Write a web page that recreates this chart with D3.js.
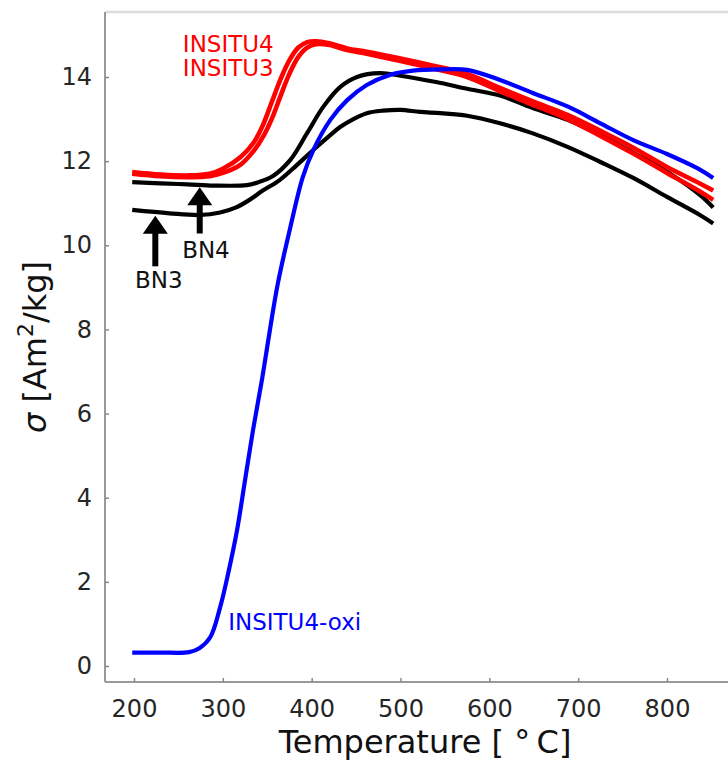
<!DOCTYPE html>
<html>
<head>
<meta charset="utf-8">
<script src="https://cdn.jsdelivr.net/npm/d3@7"></script>
<style>
	body { margin: 0; background: #fff; }
	#chart-area text { font-family: "DejaVu Sans", sans-serif; }
</style>
</head>
<body>
<div id="chart-area"></div>
<script>

// temperatures [deg C] and magnetisation [Am2/kg]
let insitu4Temp  = [198, 230, 260, 285, 300, 320, 335, 345, 355, 365, 375, 385, 395, 405, 420, 440, 462, 500, 537, 575, 612, 649, 688, 725, 762, 800, 837, 852];
let insitu4Sigma = [11.74, 11.68, 11.66, 11.7, 11.82, 12.1, 12.45, 12.85, 13.4, 13.95, 14.4, 14.7, 14.83, 14.85, 14.8, 14.68, 14.6, 14.44, 14.27, 14.07, 13.74, 13.42, 13.1, 12.72, 12.32, 11.86, 11.47, 11.3];

let insitu3Temp  = [198, 230, 260, 285, 300, 320, 335, 345, 355, 365, 375, 385, 395, 405, 420, 440, 462, 500, 537, 575, 612, 649, 688, 725, 762, 800, 837, 852];
let insitu3Sigma = [11.7, 11.64, 11.62, 11.64, 11.72, 11.92, 12.25, 12.57, 13.0, 13.55, 14.08, 14.48, 14.7, 14.78, 14.76, 14.64, 14.55, 14.38, 14.2, 14.0, 13.66, 13.34, 13.0, 12.6, 12.18, 11.72, 11.28, 11.08];

let bn4Temp  = [198, 230, 260, 290, 327, 340, 356, 376, 395, 413, 432, 451, 477, 500, 540, 575, 612, 649, 688, 725, 762, 800, 837, 852];
let bn4Sigma = [11.5, 11.47, 11.45, 11.42, 11.43, 11.5, 11.64, 12.03, 12.67, 13.29, 13.76, 14.0, 14.09, 14.03, 13.88, 13.72, 13.56, 13.26, 12.98, 12.62, 12.2, 11.75, 11.2, 10.9];

let bn3Temp  = [198, 240, 274, 297, 315, 330, 345, 364, 383, 402, 420, 432, 447, 462, 480, 500, 522, 545, 575, 612, 649, 688, 725, 762, 800, 837, 852];
let bn3Sigma = [10.84, 10.76, 10.72, 10.78, 10.9, 11.08, 11.3, 11.55, 11.9, 12.27, 12.6, 12.81, 13.0, 13.14, 13.2, 13.22, 13.17, 13.14, 13.08, 12.9, 12.66, 12.34, 11.98, 11.6, 11.15, 10.72, 10.52];

let oxiTemp  = [198, 230, 262, 274, 286, 297, 306, 316, 325, 334, 344, 353, 362, 376, 390, 402, 421, 440, 462, 488, 514, 545, 575, 612, 649, 688, 725, 762, 800, 837, 852];
let oxiSigma = [0.32, 0.32, 0.33, 0.43, 0.69, 1.4, 2.2, 3.23, 4.42, 5.61, 6.8, 7.99, 9.1, 10.43, 11.62, 12.27, 12.98, 13.45, 13.81, 14.05, 14.15, 14.18, 14.17, 13.93, 13.62, 13.3, 12.9, 12.5, 12.17, 11.8, 11.6];

let xTicks = [200, 300, 400, 500, 600, 700, 800];
let yTicks = [0, 2, 4, 6, 8, 10, 12, 14];

// series: name, colour
let seriesNames  = ["BN3", "BN4", "INSITU3", "INSITU4", "INSITU4-oxi"];
let seriesColors = ["#000000", "#000000", "#ff0000", "#ff0000", "#0000ff"];
let seriesTemps  = [bn3Temp, bn4Temp, insitu3Temp, insitu4Temp, oxiTemp];
let seriesSigmas = [bn3Sigma, bn4Sigma, insitu3Sigma, insitu4Sigma, oxiSigma];

// arrows under the BN curves: [temp, sigma tail, sigma tip]
let arrowLabels = ["BN3", "BN4"];
let arrowTemps  = [224, 274];
let arrowTails  = [9.5, 10.28];
let arrowTips   = [10.7, 11.38];
let arrowTextT  = [228, 281];
let arrowTextS  = [8.98, 9.7];


class SigmaChart {

	constructor(parentElement) {
		this.parentElement = parentElement;
		this.initVis();
	}

	initVis() {
		let vis = this;

		vis.width = 728;
		vis.height = 761;
		vis.frame = {left: 105, right: 745, top: 12, bottom: 682};

		vis.svg = d3.select("#" + vis.parentElement).append("svg")
			.attr("width", vis.width)
			.attr("height", vis.height);

		vis.x = d3.scaleLinear()
			.domain([200, 800])
			.range([134, 667]);

		vis.y = d3.scaleLinear()
			.domain([0, 14])
			.range([666, 77]);

		// frame
		vis.svg.append("line")
			.attr("x1", vis.frame.left).attr("x2", vis.width)
			.attr("y1", vis.frame.top).attr("y2", vis.frame.top)
			.attr("stroke", "#dcdcdc").attr("stroke-width", 2.5);

		vis.svg.append("line")
			.attr("x1", vis.frame.left).attr("x2", vis.frame.left)
			.attr("y1", vis.frame.top).attr("y2", vis.frame.bottom)
			.attr("stroke", "#999").attr("stroke-width", 2);

		vis.svg.append("line")
			.attr("x1", vis.frame.left).attr("x2", vis.frame.right)
			.attr("y1", vis.frame.bottom).attr("y2", vis.frame.bottom)
			.attr("stroke", "#999").attr("stroke-width", 2);

		// axes
		vis.xAxis = d3.axisBottom(vis.x)
			.tickValues(xTicks)
			.tickSizeInner(-4)
			.tickSizeOuter(0)
			.tickPadding(18);

		vis.yAxis = d3.axisLeft(vis.y)
			.tickValues(yTicks)
			.tickSizeInner(-4)
			.tickSizeOuter(0)
			.tickPadding(13);

		vis.svg.append("g")
			.attr("class", "x-axis axis")
			.attr("transform", "translate(0," + vis.frame.bottom + ")")
			.call(vis.xAxis);

		vis.svg.append("g")
			.attr("class", "y-axis axis")
			.attr("transform", "translate(" + vis.frame.left + ",0)")
			.call(vis.yAxis);

		vis.svg.selectAll(".axis .domain").remove();
		vis.svg.selectAll(".axis line").attr("stroke", "#888").attr("stroke-width", 1.5);
		vis.svg.selectAll(".axis text")
			.style("font-size", "24px")
			.attr("fill", "#262626");

		// axis titles
		vis.svg.append("text")
			.attr("x", (vis.frame.left + vis.frame.right) / 2)
			.attr("y", 753)
			.attr("text-anchor", "middle")
			.style("font-size", "32px")
			.attr("fill", "#111")
			.text("Temperature [ \u00b0\u2009C]");

		let ylab = vis.svg.append("text")
			.attr("transform", "translate(46," + ((vis.frame.top + vis.frame.bottom) / 2) + ") rotate(-90)")
			.attr("text-anchor", "middle")
			.style("font-size", "32px")
			.attr("fill", "#111");
		ylab.append("tspan").style("font-style", "italic").text("\u03c3");
		ylab.append("tspan").text(" [Am");
		ylab.append("tspan").attr("dy", -13).style("font-size", "22px").text("2");
		ylab.append("tspan").attr("dy", 13).text("/kg]");

		vis.wrangleData();
	}

	wrangleData() {
		let vis = this;

		vis.displayData = seriesNames.map((name, i) => ({
			name: name,
			color: seriesColors[i],
			values: seriesTemps[i].map((t, j) => [t, seriesSigmas[i][j]])
		}));

		vis.updateVis();
	}

	updateVis() {
		let vis = this;

		let line = d3.line()
			.x(d => vis.x(d[0]))
			.y(d => vis.y(d[1]))
			.curve(d3.curveCatmullRom.alpha(0.5));

		vis.svg.selectAll("path.curve")
			.data(vis.displayData)
			.enter()
			.append("path")
			.attr("class", "curve")
			.attr("fill", "none")
			.attr("stroke", d => d.color)
			.attr("stroke-width", d => d.color == "#ff0000" ? 4.6 : 4.2)
			.attr("stroke-linejoin", "round")
			.attr("d", d => line(d.values));

		// arrows
		let arrows = vis.svg.selectAll("g.arrow")
			.data(arrowLabels)
			.enter()
			.append("g")
			.attr("class", "arrow");

		arrows.append("line")
			.attr("x1", (d, i) => vis.x(arrowTemps[i]))
			.attr("x2", (d, i) => vis.x(arrowTemps[i]))
			.attr("y1", (d, i) => vis.y(arrowTails[i]))
			.attr("y2", (d, i) => vis.y(arrowTips[i]) + 12)
			.attr("stroke", "#000")
			.attr("stroke-width", 6);

		arrows.append("path")
			.attr("fill", "#000")
			.attr("d", (d, i) => {
				let ax = vis.x(arrowTemps[i]), ay = vis.y(arrowTips[i]);
				return "M" + ax + "," + ay + "L" + (ax - 12.5) + "," + (ay + 18) + "L" + (ax + 12.5) + "," + (ay + 18) + "Z";
			});

		arrows.append("text")
			.attr("x", (d, i) => vis.x(arrowTextT[i]))
			.attr("y", (d, i) => vis.y(arrowTextS[i]))
			.attr("text-anchor", "middle")
			.style("font-size", "23px")
			.attr("fill", "#111")
			.text(d => d);

		// curve labels
		vis.svg.append("text")
			.attr("x", vis.x(255)).attr("y", vis.y(14.6))
			.style("font-size", "23px")
			.attr("fill", "#ff0000")
			.text("INSITU4");

		vis.svg.append("text")
			.attr("x", vis.x(255)).attr("y", vis.y(14.03))
			.style("font-size", "23px")
			.attr("fill", "#ff0000")
			.text("INSITU3");

		vis.svg.append("text")
			.attr("x", vis.x(306)).attr("y", vis.y(0.86))
			.style("font-size", "23px")
			.attr("fill", "#0000ff")
			.text("INSITU4-oxi");
	}
}

let sigmaChart = new SigmaChart("chart-area");

</script>
</body>
</html>
